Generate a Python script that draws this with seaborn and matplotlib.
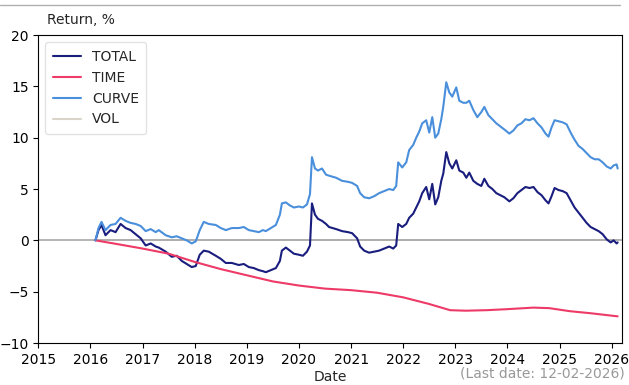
import numpy as np
import pandas as pd
import matplotlib
matplotlib.use("Agg")
import matplotlib.pyplot as plt
import matplotlib.dates as mdates
from matplotlib.lines import Line2D
import seaborn as sns

# Observation times in decimal years, with the cumulative return components (%)
t_years = [
    2016.096, 2016.154, 2016.212, 2016.288, 2016.385, 2016.481, 2016.577, 2016.673,
    2016.769, 2016.865, 2016.962, 2017.058, 2017.154, 2017.250, 2017.308, 2017.442,
    2017.558, 2017.654, 2017.750, 2017.846, 2017.942, 2018.019, 2018.096, 2018.173,
    2018.269, 2018.404, 2018.500, 2018.596, 2018.712, 2018.846, 2018.942, 2019.038,
    2019.135, 2019.231, 2019.308, 2019.365, 2019.462, 2019.558, 2019.635, 2019.673,
    2019.750, 2019.827, 2019.904, 2020.000, 2020.077, 2020.154, 2020.212, 2020.250,
    2020.308, 2020.365, 2020.442, 2020.519, 2020.577, 2020.712, 2020.827, 2020.942,
    2021.019, 2021.115, 2021.173, 2021.250, 2021.346, 2021.442, 2021.538, 2021.635,
    2021.731, 2021.808, 2021.865, 2021.904, 2021.981, 2022.058, 2022.115, 2022.192,
    2022.250, 2022.308, 2022.365, 2022.442, 2022.500, 2022.558, 2022.615, 2022.673,
    2022.731, 2022.769, 2022.827, 2022.885, 2022.942, 2023.019, 2023.077, 2023.154,
    2023.212, 2023.269, 2023.346, 2023.423, 2023.500, 2023.558, 2023.635, 2023.712,
    2023.788, 2023.865, 2023.942, 2024.038, 2024.115, 2024.192, 2024.269, 2024.346,
    2024.423, 2024.500, 2024.577, 2024.654, 2024.731, 2024.788, 2024.846, 2024.904,
    2024.981, 2025.058, 2025.135, 2025.212, 2025.288, 2025.365, 2025.442, 2025.519,
    2025.596, 2025.673, 2025.750, 2025.827, 2025.904, 2025.981, 2026.038, 2026.096,
    2026.115,
]

total = [
    0.0, 1.0, 1.5, 0.5, 1.0, 0.8, 1.6, 1.2,
    1.0, 0.6, 0.2, -0.5, -0.3, -0.6, -0.7, -1.1,
    -1.6, -1.5, -2.0, -2.3, -2.6, -2.5, -1.4, -1.0,
    -1.1, -1.5, -1.8, -2.2, -2.2, -2.4, -2.3, -2.6,
    -2.7, -2.9, -3.0, -3.1, -2.9, -2.7, -2.0, -1.0,
    -0.7, -1.0, -1.3, -1.4, -1.5, -1.1, -0.5, 3.6,
    2.5, 2.1, 1.9, 1.6, 1.3, 1.1, 0.9, 0.8,
    0.7, 0.2, -0.6, -1.0, -1.2, -1.1, -1.0, -0.8,
    -0.6, -0.8, -0.5, 1.6, 1.3, 1.6, 2.2, 2.6,
    3.2, 3.8, 4.6, 5.2, 4.0, 5.5, 3.5, 4.2,
    5.8, 6.5, 8.6, 7.5, 7.0, 7.8, 6.8, 6.6,
    6.1, 6.6, 5.8, 5.5, 5.3, 6.0, 5.3, 5.0,
    4.6, 4.4, 4.2, 3.8, 4.1, 4.6, 4.9, 5.2,
    5.1, 5.2, 4.7, 4.4, 3.9, 3.6, 4.3, 5.1,
    4.9, 4.8, 4.6, 3.9, 3.2, 2.7, 2.2, 1.7,
    1.3, 1.1, 0.9, 0.6, 0.1, -0.2, 0.0, -0.3,
    -0.2,
]

curve = [
    0.0, 1.2, 1.8, 1.0, 1.5, 1.6, 2.2, 1.9,
    1.7, 1.6, 1.4, 0.9, 1.1, 0.8, 1.0, 0.5,
    0.3, 0.4, 0.2, 0.0, -0.3, -0.1, 1.0, 1.8,
    1.6, 1.5, 1.2, 1.0, 1.2, 1.2, 1.3, 1.0,
    0.9, 0.8, 1.0, 0.9, 1.2, 1.5, 2.5, 3.6,
    3.7, 3.4, 3.2, 3.3, 3.2, 3.5, 4.5, 8.1,
    7.0, 6.8, 7.0, 6.4, 6.3, 6.1, 5.8, 5.7,
    5.6, 5.3, 4.6, 4.2, 4.1, 4.3, 4.6, 4.8,
    5.0, 4.9, 5.3, 7.6, 7.1, 7.6, 8.8, 9.3,
    10.0, 10.6, 11.4, 11.7, 10.5, 12.0, 10.0, 10.4,
    11.8, 13.0, 15.4, 14.4, 14.0, 14.9, 13.6, 13.4,
    13.4, 13.6, 12.7, 12.0, 12.5, 13.0, 12.2, 11.8,
    11.4, 11.1, 10.8, 10.4, 10.7, 11.2, 11.4, 11.8,
    11.7, 11.9, 11.4, 11.0, 10.4, 10.1, 11.0, 11.7,
    11.6, 11.5, 11.3, 10.5, 9.8, 9.2, 8.9, 8.5,
    8.1, 7.9, 7.9, 7.6, 7.2, 7.0, 7.3, 7.4,
    7.0,
]

# Carry (time) component is smooth, so it is sampled more sparsely
t_years_time = [
    2016.096, 2016.5, 2017.0, 2017.5, 2018.0, 2018.5, 2019.0, 2019.5,
    2020.0, 2020.5, 2021.0, 2021.5, 2022.0, 2022.5, 2022.9, 2023.2,
    2023.6, 2024.0, 2024.5, 2024.8, 2025.2, 2025.6, 2026.115,
]
time_ret = [
    0.0, -0.35, -0.8, -1.3, -2.1, -2.8, -3.4, -4.0,
    -4.4, -4.7, -4.85, -5.1, -5.55, -6.2, -6.8, -6.85,
    -6.8, -6.7, -6.55, -6.6, -6.9, -7.1, -7.4,
]
vol_ret = [0.0] * len(t_years_time)

series_order = ["TOTAL", "TIME", "CURVE", "VOL"]
palette = {"TOTAL": "#191d7e", "TIME": "#ee3a67", "CURVE": "#4a8fdc", "VOL": "#d8d4ca"}
year_ticks = list(range(2015, 2027))
last_date_label = "(Last date: 12-02-2026)"


def to_datetime(decimal_years):
    out = []
    for y in decimal_years:
        yr = int(np.floor(y))
        start = pd.Timestamp(year=yr, month=1, day=1)
        end = pd.Timestamp(year=yr + 1, month=1, day=1)
        out.append(start + (end - start) * (y - yr))
    return out


dates_main = to_datetime(t_years)
dates_time = to_datetime(t_years_time)

df_vol = pd.DataFrame({"Date": dates_time, "Return": vol_ret, "Component": "VOL"})
df = pd.concat([
    pd.DataFrame({"Date": dates_main, "Return": total, "Component": "TOTAL"}),
    pd.DataFrame({"Date": dates_time, "Return": time_ret, "Component": "TIME"}),
    pd.DataFrame({"Date": dates_main, "Return": curve, "Component": "CURVE"}),
], ignore_index=True)

sns.set_style("ticks")
plt.rcParams["font.family"] = ["DejaVu Sans"]
plt.rcParams["font.size"] = 10

fig = plt.figure(figsize=(6.29, 3.85), dpi=100)
ax = fig.add_axes([0.061, 0.109, 0.928, 0.800])

# volatility component sits underneath the zero reference line
sns.lineplot(data=df_vol, x="Date", y="Return", color=palette["VOL"], lw=1.4,
             ax=ax, legend=False, estimator=None, sort=False)
ax.axhline(0, color="#a8a8a8", lw=1.2)
sns.lineplot(
    data=df, x="Date", y="Return", hue="Component", hue_order=series_order[:3],
    palette=palette, lw=1.5, ax=ax, legend=False, estimator=None, sort=False,
)

handles = [Line2D([], [], color=palette[s], lw=1.5) for s in series_order]
ax.legend(handles, series_order, loc="upper left", frameon=True, fontsize=10,
          borderpad=0.55, handlelength=2.0, framealpha=0.8, edgecolor="#dddddd")

ax.set_xlim(pd.Timestamp("2015-01-01"), pd.Timestamp("2026-03-15"))
ax.set_ylim(-10, 20)
ax.set_yticks([-10, -5, 0, 5, 10, 15, 20])
ax.set_xticks([pd.Timestamp(year=y, month=1, day=1) for y in year_ticks])
ax.xaxis.set_major_formatter(mdates.DateFormatter("%Y"))
ax.tick_params(labelsize=10, length=3.5, width=0.8, colors="black")
for sp in ax.spines.values():
    sp.set_color("black")
    sp.set_linewidth(0.8)

ax.set_xlabel("Date", fontsize=10, labelpad=2)
ax.set_ylabel("")
ax.text(0.014, 1.025, "Return, %", transform=ax.transAxes, fontsize=10,
        ha="left", va="bottom")
fig.text(0.993, 0.012, last_date_label, ha="right", va="bottom",
         fontsize=10, color="#999999")

# thin separator rule along the top edge
fig.add_artist(Line2D([0.0, 0.985], [0.987, 0.987], transform=fig.transFigure,
                      color="#b0b0b0", lw=1.0))

fig.savefig("out.png", dpi=100)
